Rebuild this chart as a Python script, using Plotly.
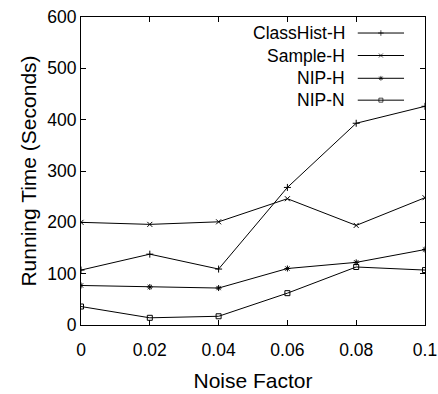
import plotly.graph_objects as go

noise = [0, 0.02, 0.04, 0.06, 0.08, 0.1]
classhist_h = [107, 138, 109, 268, 393, 426]
sample_h = [200, 196, 201, 246, 194, 248]
nip_h = [77, 74, 72, 110, 122, 147]
nip_n = [36, 14, 17, 62, 113, 107]

series = [
    ("ClassHist-H", classhist_h, "cross-thin-open"),
    ("Sample-H", sample_h, "x-thin-open"),
    ("NIP-H", nip_h, "asterisk-open"),
    ("NIP-N", nip_n, "square-open"),
]

FONT = "Liberation Sans, Arial, sans-serif"
fig = go.Figure()

for name, vals, sym in series:
    fig.add_trace(go.Scatter(
        x=noise, y=vals, mode="lines+markers", name=name,
        line=dict(color="black", width=1),
        marker=dict(symbol=sym, size=5, color="black", line=dict(color="black", width=1)),
        showlegend=False,
    ))

# custom gnuplot-style legend (text right, sample to the right)
leg_y = [0.948, 0.875, 0.801, 0.730]
lx0, lx1 = 0.8045, 0.939
for (name, vals, sym), yy in zip(series, leg_y):
    fig.add_annotation(x=0.7726, y=yy, xref="paper", yref="paper", text=name,
                       showarrow=False, xanchor="right", yanchor="middle",
                       font=dict(family=FONT, size=17.5, color="black"))
    fig.add_trace(go.Scatter(
        x=[lx0, (lx0 + lx1) / 2, lx1], y=[yy, yy, yy], xaxis="x2", yaxis="y2",
        mode="lines+markers", showlegend=False, hoverinfo="skip",
        line=dict(color="black", width=1),
        marker=dict(symbol=sym, size=[0, 4, 0], color="black", line=dict(color="black", width=1)),
    ))

fig.update_layout(
    width=438, height=394,
    margin=dict(l=80.7, r=13, t=17.3, b=69),
    paper_bgcolor="white", plot_bgcolor="white",
    font=dict(family=FONT, size=17.5, color="black"),
    xaxis=dict(range=[0, 0.1], tickvals=noise, ticktext=["0", "0.02", "0.04", "0.06", "0.08", "0.1"],
               ticks="inside", ticklen=5, tickcolor="black", showline=True, linecolor="black",
               linewidth=1, mirror="ticks", showgrid=False, zeroline=False,
               ticklabelstandoff=9, automargin=False,
               title=dict(text="Noise Factor", standoff=14)),
    yaxis=dict(range=[0, 600], tickvals=[0, 100, 200, 300, 400, 500, 600],
               ticks="inside", ticklen=5, tickcolor="black", showline=True, linecolor="black",
               linewidth=1, mirror="ticks", showgrid=False, zeroline=False,
               automargin=False,
               title=dict(text="Running Time (Seconds)", standoff=4)),
    xaxis2=dict(range=[0, 1], overlaying="x", visible=False),
    yaxis2=dict(range=[0, 1], overlaying="y", visible=False),
)

fig.write_html("out.html")
